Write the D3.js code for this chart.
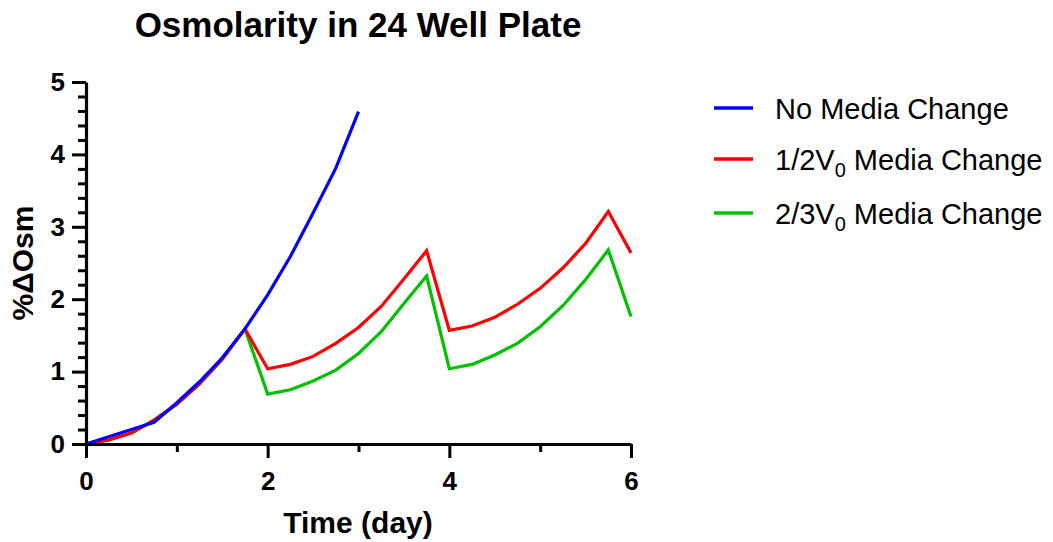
<!DOCTYPE html>
<html>
<head>
<meta charset="utf-8">
<script src="https://cdn.jsdelivr.net/npm/d3@7"></script>
<style>
  html, body { margin: 0; padding: 0; background: #fff; }
  svg { display: block; font-family: "Liberation Sans", Arial, sans-serif; }
</style>
</head>
<body>
<svg id="chart" width="1053" height="542"></svg>
<script>
// Time points (days) at which osmolarity change was computed
const timeDays = [0, 0.25, 0.5, 0.75, 1, 1.25, 1.5, 1.75, 2, 2.25, 2.5, 2.75, 3,
                  3.25, 3.5, 3.75, 4, 4.25, 4.5, 4.75, 5, 5.25, 5.5, 5.75, 6];

// %ΔOsm per condition
const noChange = [0, 0.10, 0.20, 0.30, 0.57, 0.86, 1.19, 1.59, 2.06, 2.59, 3.19, 3.81, 4.59];
const halfChange = [0, 0.055, 0.15, 0.33, 0.55, 0.83, 1.17, 1.59, 1.04, 1.10, 1.21, 1.39, 1.61,
                    1.90, 2.28, 2.67, 1.57, 1.63, 1.75, 1.93, 2.15, 2.43, 2.77, 3.21, 2.64];
const twoThirdChange = [0, 0.055, 0.15, 0.33, 0.55, 0.83, 1.17, 1.59, 0.69, 0.75, 0.87, 1.02, 1.25,
                        1.55, 1.94, 2.32, 1.04, 1.10, 1.23, 1.39, 1.62, 1.91, 2.27, 2.68, 1.76];

const seriesNames = ["No Media Change", "1/2V", "2/3V"];
const seriesColors = ["#0000ff", "#ff0000", "#00c000"];

// Axis ticks
const xMajorTicks = [0, 2, 4, 6];
const xMinorTicks = [1, 3, 5];
const yMajorTicks = [0, 1, 2, 3, 4, 5];
const yMinorTicks = [0.2, 0.4, 0.6, 0.8, 1.2, 1.4, 1.6, 1.8, 2.2, 2.4, 2.6, 2.8,
                     3.2, 3.4, 3.6, 3.8, 4.2, 4.4, 4.6, 4.8];

const svg = d3.select("#chart");

const x = d3.scaleLinear().domain([0, 6]).range([86, 631]);
const y = d3.scaleLinear().domain([0, 5]).range([444, 82]);

// Lines (green first, blue on top)
const line = d3.line().x(d => x(d[0])).y(d => y(d[1]));
const series = [
  { values: twoThirdChange, color: seriesColors[2] },
  { values: halfChange, color: seriesColors[1] },
  { values: noChange, color: seriesColors[0] }
];
series.forEach(s => {
  const pts = s.values.map((v, i) => [timeDays[i], v]);
  svg.append("path")
    .attr("d", line(pts))
    .attr("fill", "none")
    .attr("stroke", s.color)
    .attr("stroke-width", 3.2)
    .attr("stroke-linejoin", "miter");
});

// Axes
function styleAxis(g) {
  g.selectAll("path.domain").attr("stroke", "#000").attr("stroke-width", 3.2);
  g.selectAll(".tick line").attr("stroke", "#000").attr("stroke-width", 3);
}

const yMinorG = svg.append("g").attr("transform", "translate(86,0)")
  .call(d3.axisLeft(y).tickValues(yMinorTicks).tickSize(8).tickSizeOuter(0).tickFormat(""));
styleAxis(yMinorG);
yMinorG.select("path.domain").remove();

const yG = svg.append("g").attr("transform", "translate(86,0)")
  .call(d3.axisLeft(y).tickValues(yMajorTicks).tickSize(14).tickSizeOuter(0).tickPadding(7).tickFormat(d3.format("d")));
styleAxis(yG);
yG.selectAll(".tick text")
  .attr("font-size", 26).attr("font-weight", "bold").attr("fill", "#000")
  .attr("font-family", "'Liberation Sans', Arial, sans-serif");

const xMinorG = svg.append("g").attr("transform", "translate(0,444)")
  .call(d3.axisBottom(x).tickValues(xMinorTicks).tickSize(8).tickSizeOuter(0).tickFormat(""));
styleAxis(xMinorG);
xMinorG.select("path.domain").remove();

const xG = svg.append("g").attr("transform", "translate(0,444)")
  .call(d3.axisBottom(x).tickValues(xMajorTicks).tickSize(14).tickSizeOuter(0).tickPadding(14).tickFormat(d3.format("d")));
styleAxis(xG);
xG.selectAll(".tick text")
  .attr("font-size", 26).attr("font-weight", "bold").attr("fill", "#000")
  .attr("font-family", "'Liberation Sans', Arial, sans-serif");

// Title and axis titles
svg.append("text")
  .attr("x", 358).attr("y", 37)
  .attr("text-anchor", "middle")
  .attr("font-size", 35).attr("font-weight", "bold")
  .text("Osmolarity in 24 Well Plate");

svg.append("text")
  .attr("x", 358).attr("y", 533)
  .attr("text-anchor", "middle")
  .attr("font-size", 30).attr("font-weight", "bold")
  .text("Time (day)");

svg.append("text")
  .attr("transform", "translate(33,263) rotate(-90)")
  .attr("text-anchor", "middle")
  .attr("font-size", 30).attr("font-weight", "bold")
  .text("%ΔOsm");

// Legend
const legendRows = [
  { y: 108, color: seriesColors[0], label: seriesNames[0], sub: null },
  { y: 159, color: seriesColors[1], label: seriesNames[1], sub: "0" },
  { y: 213, color: seriesColors[2], label: seriesNames[2], sub: "0" }
];
legendRows.forEach(r => {
  svg.append("line")
    .attr("x1", 714).attr("x2", 753)
    .attr("y1", r.y).attr("y2", r.y)
    .attr("stroke", r.color).attr("stroke-width", 3.4);
  const t = svg.append("text")
    .attr("x", 775).attr("y", r.y + 11)
    .attr("font-size", 29);
  if (r.sub) {
    t.append("tspan").text(r.label);
    t.append("tspan").attr("font-size", 20).attr("dy", 7).text(r.sub);
    t.append("tspan").attr("dy", -7).text(" Media Change");
  } else {
    t.text(r.label);
  }
});
</script>
</body>
</html>
